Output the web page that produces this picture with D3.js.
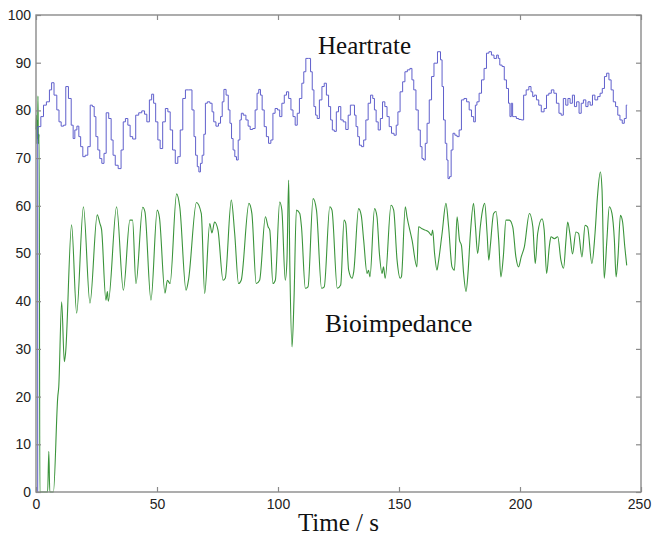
<!DOCTYPE html>
<html>
<head>
<meta charset="utf-8">
<script src="https://cdn.jsdelivr.net/npm/d3@7"></script>
<style>
  body { margin: 0; background: #fff; }
  svg { display: block; }
</style>
</head>
<body>
<div id="chart"></div>
<script>
// heart rate trace (time in s, beats per minute)
const hrTime = [0, 1.4, 2.6, 3.6, 5.0, 6.1, 6.8, 8.1, 9.1, 9.9, 10.9, 11.9, 12.7, 14.1, 15.0, 15.7,
  16.4, 17.4, 18.0, 18.9, 19.8, 20.9, 21.9, 22.9, 23.7, 24.4, 25.1, 26.0, 26.7, 27.7, 28.5, 29.5,
  30.6, 31.5, 32.2, 33.3, 34.6, 35.7, 36.4, 37.5, 38.4, 39.4, 40.5, 41.9, 43.0, 44.4, 45.3, 46.3,
  47.4, 48.2, 49.0, 49.9, 50.8, 51.8, 52.9, 54.0, 55.0, 55.9, 57.0, 58.1, 59.1, 60.1, 61.2, 62.3,
  63.9, 65.0, 65.6, 66.3, 67.0, 67.6, 68.3, 69.0, 69.7, 70.3, 71.3, 72.4, 73.1, 73.8, 74.9, 75.9,
  76.6, 77.3, 78.0, 79.1, 79.8, 80.5, 81.1, 81.8, 82.5, 83.2, 83.9, 84.6, 85.1, 86.2, 87.3, 88.0,
  89.0, 90.1, 91.0, 91.7, 92.4, 93.1, 93.8, 94.8, 95.6, 96.6, 97.5, 98.3, 99.3, 100.3, 101.1, 102.1,
  103.1, 103.9, 104.9, 105.8, 106.6, 107.6, 108.3, 109.4, 110.3, 111.0, 112.0, 113.1, 113.8, 114.5,
  115.2, 115.9, 116.5, 117.7, 118.6, 119.6, 120.4, 121.4, 122.1, 122.8, 123.7, 124.5, 125.5, 126.4,
  127.5, 128.5, 129.5, 130.3, 131.3, 131.9, 132.6, 133.3, 134.0, 135.0, 135.8, 136.8, 137.7, 138.8,
  139.5, 140.2, 140.9, 141.9, 142.7, 143.7, 144.6, 145.5, 146.4, 147.4, 148.5, 149.2, 149.9, 151.0,
  152.0, 152.9, 154.0, 155.0, 155.7, 156.5, 157.5, 158.4, 159.2, 159.8, 160.5, 161.2, 162.0, 163.0,
  163.9, 165.0, 166.8, 167.5, 168.1, 168.7, 169.5, 170.0, 170.5, 171.2, 171.9, 172.7, 173.5, 174.4,
  175.3, 176.3, 177.4, 178.5, 179.5, 180.4, 181.3, 181.8, 182.6, 183.6, 184.6, 185.7, 186.6, 187.7,
  188.7, 189.8, 190.9, 191.2, 192.1, 193.1, 193.9, 194.9, 195.6, 196.1, 196.7, 197.2, 198.0, 199.0,
  200.0, 201.1, 201.9, 203.2, 204.1, 205.0, 205.5, 206.3, 207.3, 208.2, 209.4, 210.5, 211.4, 212.4,
  213.5, 214.5, 215.6, 216.6, 217.4, 218.4, 219.4, 220.2, 221.2, 222.1, 222.9, 223.9, 224.9, 225.7,
  226.7, 227.7, 228.5, 229.5, 230.4, 231.5, 232.7, 233.5, 234.5, 235.3, 236.3, 237.2, 238.1, 239.0,
  240.0, 240.8, 241.8, 242.7, 243.5, 244.3];
const hrRate = [0, 76.6, 78.7, 81.1, 81.8, 84.3, 85.8, 83.2, 80.1, 77.6, 76.7, 76.9, 85.0, 82.5, 76.9, 74.1,
  75.9, 76.7, 74.5, 72.4, 70.3, 70.6, 72.4, 81.1, 80.8, 78.7, 74.5, 71.7, 69.9, 68.9, 71.0, 79.5,
  78.3, 73.8, 70.6, 68.5, 67.8, 71.7, 77.6, 78.3, 76.9, 74.5, 74.0, 79.0, 79.5, 79.9, 79.2, 77.6,
  82.2, 83.4, 81.5, 77.6, 73.8, 72.0, 77.6, 80.4, 79.7, 75.9, 71.7, 68.9, 70.3, 75.9, 82.5, 84.3,
  84.3, 80.1, 74.5, 70.6, 68.2, 67.1, 68.9, 70.6, 75.0, 81.5, 81.8, 81.5, 79.7, 77.6, 76.7, 77.3,
  78.7, 81.8, 84.4, 83.2, 80.1, 77.3, 74.1, 71.7, 70.3, 69.6, 73.8, 78.0, 79.4, 79.0, 78.0, 76.7,
  76.0, 76.2, 80.1, 83.6, 84.4, 83.2, 80.1, 76.6, 74.5, 73.1, 73.8, 79.4, 80.4, 80.1, 78.7, 81.5,
  83.2, 83.9, 82.5, 80.1, 78.7, 76.9, 79.4, 82.5, 85.7, 88.1, 90.9, 90.9, 88.1, 84.3,
  80.8, 79.0, 78.3, 82.2, 85.0, 85.7, 83.2, 80.8, 78.0, 75.9, 75.6, 79.7, 80.8, 78.0,
  77.6, 76.0, 79.0, 81.1, 81.1, 79.0, 76.6, 74.5, 72.7, 72.4, 73.8, 78.0, 81.5, 83.2,
  82.5, 80.1, 77.6, 75.9, 78.3, 81.8, 80.8, 78.7, 76.6, 75.2, 74.8, 76.9, 79.7, 83.9,
  86.0, 88.1, 88.5, 88.8, 86.4, 84.3, 80.1, 75.9, 72.4, 69.9, 69.6, 73.1, 77.3, 82.2,
  87.1, 89.9, 92.3, 90.6, 85.0, 78.0, 73.1, 69.6, 65.7, 66.1, 71.7, 75.2, 74.8, 74.5,
  75.9, 82.2, 82.5, 81.8, 80.1, 78.7, 77.6, 81.1, 81.8, 83.6, 86.4, 88.8, 92.0, 92.3,
  91.6, 90.9, 91.6, 90.9, 89.5, 89.2, 86.4, 84.6, 81.5, 78.7, 81.5, 78.7, 78.7, 78.3,
  78.1, 78.0, 83.2, 84.3, 85.0, 83.9, 82.9, 83.2, 82.2, 81.1, 79.7, 80.4, 83.2, 83.6,
  84.3, 83.6, 81.5, 79.4, 79.0, 82.5, 81.1, 82.5, 81.5, 83.2, 80.8, 81.8, 79.4, 81.5,
  82.2, 80.8, 81.8, 81.1, 83.2, 82.2, 82.9, 83.6, 84.6, 87.1, 87.8, 86.4, 84.3, 81.8,
  80.8, 79.0, 78.0, 77.3, 78.3, 81.1];

// bioimpedance trace
const bioTime = [0, 0.2, 0.35, 0.5, 0.65, 0.8, 1.0, 1.3, 1.6, 4.8, 5.3, 5.7, 7.2, 9.0, 9.4, 10.6, 11.7,
  12.2, 14.7, 16.8, 19.6, 22.3, 25.3, 26.4, 27.1, 28.9, 29.5, 29.9, 33.3, 36.1, 38.8, 39.9, 41.3,
  44.1, 45.0, 47.5, 50.1, 51.0, 53.3, 54.3, 55.4, 58.1, 59.4, 62.0, 63.0, 66.3, 68.3, 69.7, 71.8,
  72.7, 73.8, 75.2, 77.3, 78.2, 80.7, 82.1, 83.7, 84.8, 88.0, 89.2, 91.0, 92.4, 94.8, 95.9, 96.6,
  97.9, 98.9, 100.7, 101.6, 103.0, 103.7, 104.4, 104.9, 105.8, 106.6, 107.6, 109.0, 109.7, 111.3,
  112.4, 114.5, 115.9, 118.0, 119.1, 121.4, 122.3, 124.5, 125.9, 127.3, 128.0, 129.2, 130.6, 131.3,
  133.3, 134.4, 135.4, 136.8, 137.4, 138.0, 139.9, 140.9, 141.9, 143.0, 143.6, 144.3, 146.7, 147.8,
  149.2, 150.5, 151.0, 152.6, 153.3, 155.4, 157.4, 158.1, 159.5, 160.9, 162.3, 163.4, 163.9, 164.7,
  165.7, 166.2, 167.8, 169.4, 170.5, 171.9, 172.9, 174.0, 175.0, 175.8, 176.7, 177.7, 178.5, 179.5,
  180.8, 181.6, 182.5, 183.6, 184.3, 185.4, 186.4, 187.1, 187.7, 189.1, 190.1, 191.2, 192.1, 193.1,
  194.2, 195.6, 197.0, 198.3, 199.4, 200.5, 201.8, 203.9, 205.3, 206.3, 207.3, 209.1, 210.0, 211.0,
  212.1, 212.8, 214.2, 215.6, 216.9, 218.0, 219.0, 219.7, 220.6, 221.7, 223.1, 224.2, 225.6, 226.9,
  227.9, 229.7, 231.0, 232.0, 233.2, 233.9, 234.8, 235.9, 236.9, 238.0, 239.0, 239.7, 240.5, 241.5,
  242.4, 243.3, 244.1];
const bioValue = [76, 79, 73, 78, 74, 83, 73, 75, 0, 0, 8.5, 0, 0, 20, 22, 39.9, 27.3,
  29, 56, 37.5, 59.8, 39.6, 58.1, 56.3, 55, 40.2, 42, 40, 59.8, 42.3, 57, 57, 43.7,
  59.7, 58.8, 40.2, 59.1, 57.6, 41.7, 44.4, 43.7, 62.5, 59.8, 42.3, 44.4, 60.7, 58.4, 41.6, 56.3,
  54.3, 56.6, 54.9, 44.4, 44.8, 61.2, 54.2, 43.7, 44.4, 60.5, 58.4, 43.7, 44.4, 57.7, 55.6, 54.9,
  43.7, 44.4, 60.8, 59.1, 44.4, 48.6, 65.4, 47.2, 30.4, 40.2, 59.1, 58.4, 55.6, 42.7,
  43.0, 61.5, 59.1, 42.7, 43.0, 59.8, 59.1, 42.7, 43.4, 57.0, 56.3, 46.5, 44.8, 46.2,
  59.4, 58.0, 52.8, 45.8, 46.5, 45.1, 59.4, 57.7, 50.0, 45.8, 47.2, 44.8, 60.1, 59.1,
  48.6, 44.8, 45.1, 59.8, 57.7, 52.8, 47.2, 55.6, 55.2, 54.9, 54.5, 53.8, 54.9, 50.0,
  46.5, 47.9, 54.2, 60.5, 55.6, 47.2, 46.5, 57.7, 52.8, 51.7, 45.8, 42.0, 45.8, 54.2,
  60.5, 55.6, 50.0, 55.6, 58.4, 60.5, 54.2, 48.6, 51.4, 58.4, 58.8, 52.8, 45.1, 49.3,
  57.0, 57.0, 55.6, 49.3, 47.2, 49.3, 51.4, 58.4, 55.6, 47.9, 54.2, 57.3, 54.9, 45.8,
  51.4, 53.5, 53.1, 53.5, 48.6, 46.9, 52.8, 56.6, 54.2, 49.9, 54.5, 54.2, 49.3, 55.9,
  55.6, 47.9, 54.2, 61.9, 67.1, 63.3, 44.8, 52.8, 59.8, 58.4, 52.8, 45.1, 49.3, 58.0,
  56.6, 51.4, 47.5];

const xTicks = [0, 50, 100, 150, 200, 250];
const yTicks = [0, 10, 20, 30, 40, 50, 60, 70, 80, 90, 100];

const width = 652;
const height = 537;
const margin = { top: 15, right: 11, bottom: 45, left: 36 };
const innerW = width - margin.left - margin.right;
const innerH = height - margin.top - margin.bottom;

const svg = d3.select('#chart').append('svg')
  .attr('width', width)
  .attr('height', height);

const g = svg.append('g')
  .attr('transform', `translate(${margin.left},${margin.top})`);

const x = d3.scaleLinear().domain([0, 250]).range([0, innerW]);
const y = d3.scaleLinear().domain([0, 100]).range([innerH, 0]);

const hrData = hrTime.map((t, i) => ({ t, v: hrRate[i] }));
const bioData = bioTime.map((t, i) => ({ t, v: bioValue[i] }));

// heart rate is stepped, bioimpedance is a smooth trace
const hrLine = d3.line().x((d) => x(d.t)).y((d) => y(d.v)).curve(d3.curveStep);
const bioLine = d3.line().x((d) => x(d.t)).y((d) => y(d.v)).curve(d3.curveMonotoneX);

g.append('path')
  .datum(bioData)
  .attr('fill', 'none')
  .attr('stroke', '#3b943b')
  .attr('stroke-width', 1.1)
  .attr('d', bioLine);

g.append('path')
  .datum(hrData)
  .attr('fill', 'none')
  .attr('stroke', '#6060cc')
  .attr('stroke-width', 1)
  .attr('d', hrLine);

// axes, ticks pointing inward on all four sides
const axisColour = '#8a8a8a';
const tickFont = '"Liberation Sans", Arial, sans-serif';

const styleAxis = (sel) => {
  sel.select('.domain').remove();
  sel.selectAll('.tick line').attr('stroke', axisColour).attr('stroke-width', 1.2);
  sel.selectAll('.tick text')
    .attr('fill', '#222')
    .style('font-family', tickFont)
    .style('font-size', '14px');
};

g.append('g')
  .attr('transform', `translate(0,${innerH})`)
  .call(d3.axisBottom(x).tickValues(xTicks).tickSizeInner(-5).tickSizeOuter(0).tickPadding(7))
  .call(styleAxis)
  .selectAll('.tick text')
  .filter((d) => d === 250)
  .attr('dx', -2);

g.append('g')
  .call(d3.axisLeft(y).tickValues(yTicks).tickSizeInner(-5).tickSizeOuter(0).tickPadding(5))
  .call(styleAxis);

g.append('g')
  .call(d3.axisTop(x).tickValues(xTicks).tickSizeInner(-5).tickSizeOuter(0).tickFormat(''))
  .call(styleAxis);

g.append('g')
  .attr('transform', `translate(${innerW},0)`)
  .call(d3.axisRight(y).tickValues(yTicks).tickSizeInner(-5).tickSizeOuter(0).tickFormat(''))
  .call(styleAxis);

g.append('rect')
  .attr('width', innerW)
  .attr('height', innerH)
  .attr('fill', 'none')
  .attr('stroke', axisColour)
  .attr('stroke-width', 1.4);

// labels
const serif = '"Liberation Serif", "Times New Roman", serif';

svg.append('text')
  .attr('x', 318)
  .attr('y', 54)
  .style('font-family', serif)
  .style('font-size', '25px')
  .attr('fill', '#111')
  .text('Heartrate');

svg.append('text')
  .attr('x', 325)
  .attr('y', 332)
  .style('font-family', serif)
  .style('font-size', '25.5px')
  .attr('fill', '#111')
  .text('Bioimpedance');

svg.append('text')
  .attr('x', margin.left + innerW / 2)
  .attr('y', 531)
  .attr('text-anchor', 'middle')
  .style('font-family', serif)
  .style('font-size', '25px')
  .attr('fill', '#111')
  .text('Time / s');
</script>
</body>
</html>
